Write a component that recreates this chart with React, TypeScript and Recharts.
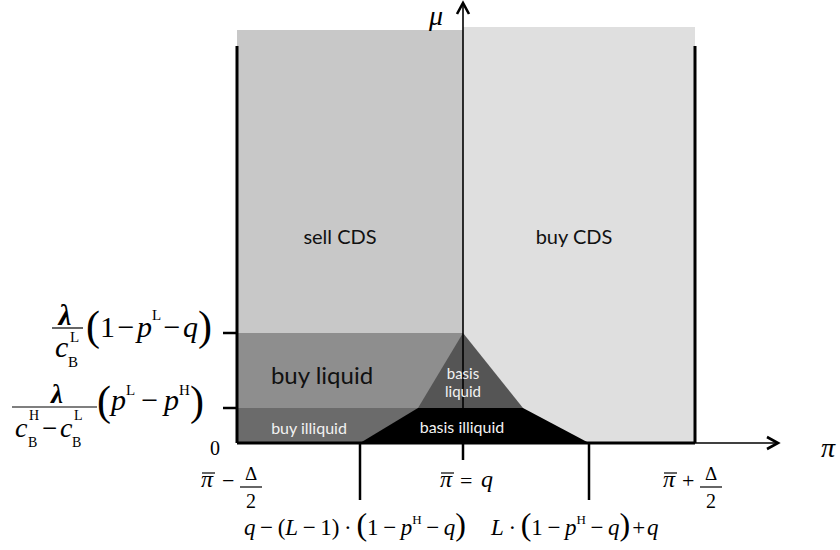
import React from 'react';
import { ComposedChart, Area, XAxis, YAxis, ReferenceLine, ReferenceDot } from 'recharts';

// Horizontal axis (π) positions, in chart units
const X_LEFT = -2.26; // π̄ − Δ/2
const X_LOW = -1.03; // q − (L−1)(1−pH−q)
const X_MID = 0; // π̄ = q
const X_HIGH = 1.26; // L(1−pH−q)+q
const X_RIGHT = 2.32; // π̄ + Δ/2
const X_BASIS_L = -0.45;
const X_BASIS_R = 0.6;
const X_ARROW = 3.15;
const X_MAX = 3.17;

// Vertical axis (μ) levels
const Y_LIQ = 1.1; // λ/cBL (1−pL−q)
const Y_ILL = 0.35; // λ/(cBH−cBL) (pL−pH)
const Y_TOP_SELL = 4.13;
const Y_TOP_BUY = 4.16;
const Y_WALL = 3.97;
const Y_MAX = 4.4;

const xTicks = [X_LEFT, X_LOW, X_MID, X_HIGH, X_RIGHT];
const yTicks = [0, Y_ILL, Y_LIQ];

const sellCDS = [
  { x: X_LEFT, y: Y_TOP_SELL },
  { x: X_MID, y: Y_TOP_SELL },
];
const buyCDS = [
  { x: X_MID, y: Y_TOP_BUY },
  { x: X_RIGHT, y: Y_TOP_BUY },
];
const buyLiquid = [
  { x: X_LEFT, y: Y_LIQ },
  { x: X_MID, y: Y_LIQ },
];
const buyIlliquid = [
  { x: X_LEFT, y: Y_ILL },
  { x: X_BASIS_L, y: Y_ILL },
];
const basisLiquid = [
  { x: X_BASIS_L, y: Y_ILL },
  { x: X_MID, y: Y_LIQ },
  { x: X_BASIS_R, y: Y_ILL },
];
const basisIlliquid = [
  { x: X_LOW, y: 0 },
  { x: X_BASIS_L, y: Y_ILL },
  { x: X_BASIS_R, y: Y_ILL },
  { x: X_HIGH, y: 0 },
];

const regionLabels = [
  { x: -1.23, y: 2.07, text: 'sell CDS', size: 20, color: '#111' },
  { x: 1.11, y: 2.07, text: 'buy CDS', size: 20, color: '#111' },
  { x: -1.41, y: 0.69, text: 'buy liquid', size: 24, color: '#111' },
  { x: 0, y: 0.7, text: 'basis', size: 15, color: '#f2f2f2' },
  { x: 0, y: 0.52, text: 'liquid', size: 15, color: '#f2f2f2' },
  { x: -1.54, y: 0.16, text: 'buy illiquid', size: 16, color: '#f2f2f2' },
  { x: -0.01, y: 0.17, text: 'basis illiquid', size: 16, color: '#f2f2f2' },
];

const SERIF = '"Liberation Serif", "Times New Roman", serif';
const SANS = 'Lato, "Open Sans", sans-serif';

type Tok = { t: string; i?: boolean; s?: number; d?: number };

function Expr({ x, y, size, tokens }: { x: number; y: number; size: number; tokens: Tok[] }) {
  let cur = 0;
  return (
    <text x={x} y={y} fontFamily={SERIF} fontSize={size} fill="#000" textAnchor="start">
      {tokens.map((tk, i) => {
        const target = tk.d || 0;
        const dy = target - cur;
        cur = target;
        return (
          <tspan key={i} dy={dy} fontStyle={tk.i ? 'italic' : 'normal'} fontSize={tk.s || size}>
            {tk.t}
          </tspan>
        );
      })}
    </text>
  );
}

const MINUS = '\u2009\u2212\u2009';
const MINUS_TIGHT = '\u200A\u2212\u200A';

function PiBar({ x, y, size = 24 }: { x: number; y: number; size?: number }) {
  return (
    <g>
      <text x={x} y={y} fontFamily={SERIF} fontStyle="italic" fontSize={size} fill="#000">
        π
      </text>
      <line x1={x + 1} x2={x + 14} y1={y - 14} y2={y - 14} stroke="#000" strokeWidth={1.2} />
    </g>
  );
}

function HalfDelta({ x, sign }: { x: number; sign: string }) {
  const BY = 487;
  return (
    <g>
      <text x={x} y={BY + 1} fontFamily={SERIF} fontSize={22} fill="#000">
        {sign}
      </text>
      <text x={x + 29} y={480} fontFamily={SERIF} fontSize={19} fill="#000" textAnchor="middle">
        Δ
      </text>
      <line x1={x + 18} x2={x + 40} y1={BY} y2={BY} stroke="#000" strokeWidth={1.2} />
      <text x={x + 29} y={508} fontFamily={SERIF} fontSize={20} fill="#000" textAnchor="middle">
        2
      </text>
    </g>
  );
}

const AXIS_Y = 443;

function XTick(props: any) {
  const { x, payload } = props;
  const v = payload.value;
  if (v === X_LEFT) {
    return (
      <g>
        <PiBar x={x - 36} y={487} />
        <HalfDelta x={x - 15} sign={'\u2212'} />
      </g>
    );
  }
  if (v === X_RIGHT) {
    return (
      <g>
        <PiBar x={x - 32} y={487} />
        <HalfDelta x={x - 13} sign="+" />
      </g>
    );
  }
  if (v === X_MID) {
    return (
      <g>
        <line x1={x} x2={x} y1={AXIS_Y} y2={460} stroke="#000" strokeWidth={2.5} />
        <PiBar x={x - 23} y={487} />
        <text x={x - 3} y={488} fontFamily={SERIF} fontSize={22} fill="#000">
          =
        </text>
        <text x={x + 18} y={487} fontFamily={SERIF} fontStyle="italic" fontSize={24} fill="#000">
          q
        </text>
      </g>
    );
  }
  if (v === X_LOW) {
    return (
      <g>
        <line x1={x} x2={x} y1={AXIS_Y} y2={500} stroke="#000" strokeWidth={2.5} />
        <Expr
          x={x - 116}
          y={535}
          size={23}
          tokens={[
            { t: 'q', i: true },
            { t: MINUS },
            { t: '(' },
            { t: 'L', i: true },
            { t: MINUS },
            { t: '1)' },
            { t: '\u2009·\u2009' },
            { t: '(', s: 32 },
            { t: '1' },
            { t: MINUS },
            { t: 'p', i: true },
            { t: 'H', s: 13, d: -11 },
            { t: MINUS },
            { t: 'q', i: true },
            { t: ')', s: 32 },
          ]}
        />
      </g>
    );
  }
  if (v === X_HIGH) {
    return (
      <g>
        <line x1={x} x2={x} y1={AXIS_Y} y2={500} stroke="#000" strokeWidth={2.5} />
        <Expr
          x={x - 98}
          y={535}
          size={23}
          tokens={[
            { t: 'L', i: true },
            { t: '\u2009·\u2009' },
            { t: '(', s: 32 },
            { t: '1' },
            { t: MINUS },
            { t: 'p', i: true },
            { t: 'H', s: 13, d: -11 },
            { t: MINUS },
            { t: 'q', i: true },
            { t: ')', s: 32 },
            { t: '\u200A+\u200A' },
            { t: 'q', i: true },
          ]}
        />
      </g>
    );
  }
  return null;
}

function YTick(props: any) {
  const { y, payload } = props;
  const v = payload.value;
  const T = y;
  if (v === 0) {
    return (
      <text x={215} y={T + 12} fontFamily={SERIF} fontSize={20} fill="#000" textAnchor="middle">
        0
      </text>
    );
  }
  if (v === Y_LIQ) {
    return (
      <g>
        <line x1={223} x2={237} y1={T} y2={T} stroke="#000" strokeWidth={2.5} />
        <text x={65} y={T - 8} fontFamily={SERIF} fontStyle="italic" fontWeight="bold" fontSize={29} textAnchor="middle" fill="#000">
          λ
        </text>
        <line x1={52} x2={83} y1={T - 5} y2={T - 5} stroke="#000" strokeWidth={1.2} />
        <text x={55} y={T + 24} fontFamily={SERIF} fontStyle="italic" fontSize={30} fill="#000">
          c
        </text>
        <text x={70} y={T + 9} fontFamily={SERIF} fontSize={15} fill="#000">
          L
        </text>
        <text x={68} y={T + 34} fontFamily={SERIF} fontSize={15} fill="#000">
          B
        </text>
        <Expr
          x={86}
          y={T + 4}
          size={30}
          tokens={[
            { t: '(', s: 42, d: 3 },
            { t: '1' },
            { t: MINUS_TIGHT },
            { t: 'p', i: true },
            { t: 'L', s: 15, d: -17 },
            { t: MINUS_TIGHT },
            { t: 'q', i: true },
            { t: ')', s: 42, d: 3 },
          ]}
        />
      </g>
    );
  }
  if (v === Y_ILL) {
    return (
      <g>
        <line x1={223} x2={237} y1={T} y2={T} stroke="#000" strokeWidth={2.5} />
        <text x={57} y={T - 5} fontFamily={SERIF} fontStyle="italic" fontWeight="bold" fontSize={27} textAnchor="middle" fill="#000">
          λ
        </text>
        <line x1={12} x2={97} y1={T - 1} y2={T - 1} stroke="#000" strokeWidth={1.2} />
        <text x={15} y={T + 29} fontFamily={SERIF} fontStyle="italic" fontSize={28} fill="#000">
          c
        </text>
        <text x={29} y={T + 12} fontFamily={SERIF} fontSize={14} fill="#000">
          H
        </text>
        <text x={28} y={T + 39} fontFamily={SERIF} fontSize={14} fill="#000">
          B
        </text>
        <text x={42} y={T + 29} fontFamily={SERIF} fontSize={27} fill="#000">
          {'\u2212'}
        </text>
        <text x={60} y={T + 29} fontFamily={SERIF} fontStyle="italic" fontSize={28} fill="#000">
          c
        </text>
        <text x={74} y={T + 12} fontFamily={SERIF} fontSize={14} fill="#000">
          L
        </text>
        <text x={72} y={T + 39} fontFamily={SERIF} fontSize={14} fill="#000">
          B
        </text>
        <Expr
          x={97}
          y={T + 2}
          size={30}
          tokens={[
            { t: '(', s: 42, d: 5 },
            { t: 'p', i: true },
            { t: 'L', s: 15, d: -15 },
            { t: MINUS },
            { t: 'p', i: true },
            { t: 'H', s: 15, d: -15 },
            { t: ')', s: 42, d: 5 },
          ]}
        />
      </g>
    );
  }
  return null;
}

function ArrowLine(props: any) {
  const { x1, y1, x2, y2, label, lx, ly } = props;
  const dx = x2 - x1;
  const dy = y2 - y1;
  const len = Math.sqrt(dx * dx + dy * dy) || 1;
  const ux = dx / len;
  const uy = dy / len;
  const back = 11;
  const half = 6;
  const ax = x2 - ux * back;
  const ay = y2 - uy * back;
  const px = -uy * half;
  const py = ux * half;
  return (
    <g>
      <line x1={x1} y1={y1} x2={x2} y2={y2} stroke="#000" strokeWidth={1.6} />
      <polyline
        points={`${ax + px},${ay + py} ${x2},${y2} ${ax - px},${ay - py}`}
        fill="none"
        stroke="#000"
        strokeWidth={2.6}
      />
      <text x={x2 + lx} y={y2 + ly} fontFamily={SERIF} fontStyle="italic" fontSize={28} fill="#000" textAnchor="middle">
        {label}
      </text>
    </g>
  );
}

export default function App() {
  return (
    <div style={{ position: 'absolute', left: 0, top: 0, width: 840, height: 550, background: '#fff' }}>
      <ComposedChart width={840} height={550} margin={{ top: 3, right: 60, bottom: 0, left: 0 }}>
        <XAxis
          type="number"
          dataKey="x"
          domain={[X_LEFT, X_MAX]}
          ticks={xTicks}
          interval={0}
          axisLine={false}
          tickLine={false}
          height={107}
          allowDataOverflow
          tick={(p: any) => <XTick {...p} />}
        />
        <YAxis
          type="number"
          dataKey="y"
          domain={[0, Y_MAX]}
          ticks={yTicks}
          interval={0}
          axisLine={false}
          tickLine={false}
          width={237}
          allowDataOverflow
          tick={(p: any) => <YTick {...p} />}
        />
        <Area data={sellCDS} dataKey="y" type="linear" baseValue={0} stroke="none" fill="#c8c8c8" fillOpacity={1} isAnimationActive={false} />
        <Area data={buyCDS} dataKey="y" type="linear" baseValue={0} stroke="none" fill="#dfdfdf" fillOpacity={1} isAnimationActive={false} />
        <Area data={buyLiquid} dataKey="y" type="linear" baseValue={0} stroke="none" fill="#8e8e8e" fillOpacity={1} isAnimationActive={false} />
        <Area data={buyIlliquid} dataKey="y" type="linear" baseValue={0} stroke="none" fill="#6b6b6b" fillOpacity={1} isAnimationActive={false} />
        <Area data={basisLiquid} dataKey="y" type="linear" baseValue={Y_ILL} stroke="none" fill="#555555" fillOpacity={1} isAnimationActive={false} />
        <Area data={basisIlliquid} dataKey="y" type="linear" baseValue={0} stroke="none" fill="#000000" fillOpacity={1} isAnimationActive={false} />

        <ReferenceLine
          segment={[{ x: X_LEFT, y: 0 }, { x: X_ARROW, y: 0 }]}
          ifOverflow="visible"
          shape={(p: any) => <ArrowLine {...p} label="π" lx={50} ly={14} />}
        />
        <ReferenceLine
          segment={[{ x: X_MID, y: 0 }, { x: X_MID, y: Y_MAX }]}
          ifOverflow="visible"
          shape={(p: any) => <ArrowLine {...p} label="μ" lx={-27} ly={22} />}
        />
        <ReferenceLine segment={[{ x: X_LEFT, y: 0 }, { x: X_RIGHT, y: 0 }]} stroke="#000" strokeWidth={3} ifOverflow="visible" />
        <ReferenceLine segment={[{ x: X_LEFT, y: 0 }, { x: X_LEFT, y: Y_WALL }]} stroke="#000" strokeWidth={3} ifOverflow="visible" />
        <ReferenceLine segment={[{ x: X_RIGHT, y: 0 }, { x: X_RIGHT, y: Y_WALL }]} stroke="#000" strokeWidth={3} ifOverflow="visible" />

        {regionLabels.map((r, i) => (
          <ReferenceDot
            key={i}
            x={r.x}
            y={r.y}
            r={0}
            ifOverflow="visible"
            shape={(p: any) => (
              <text
                x={p.cx}
                y={p.cy}
                textAnchor="middle"
                dominantBaseline="central"
                fontFamily={SANS}
                fontSize={r.size}
                fill={r.color}
              >
                {r.text}
              </text>
            )}
          />
        ))}
      </ComposedChart>
    </div>
  );
}
